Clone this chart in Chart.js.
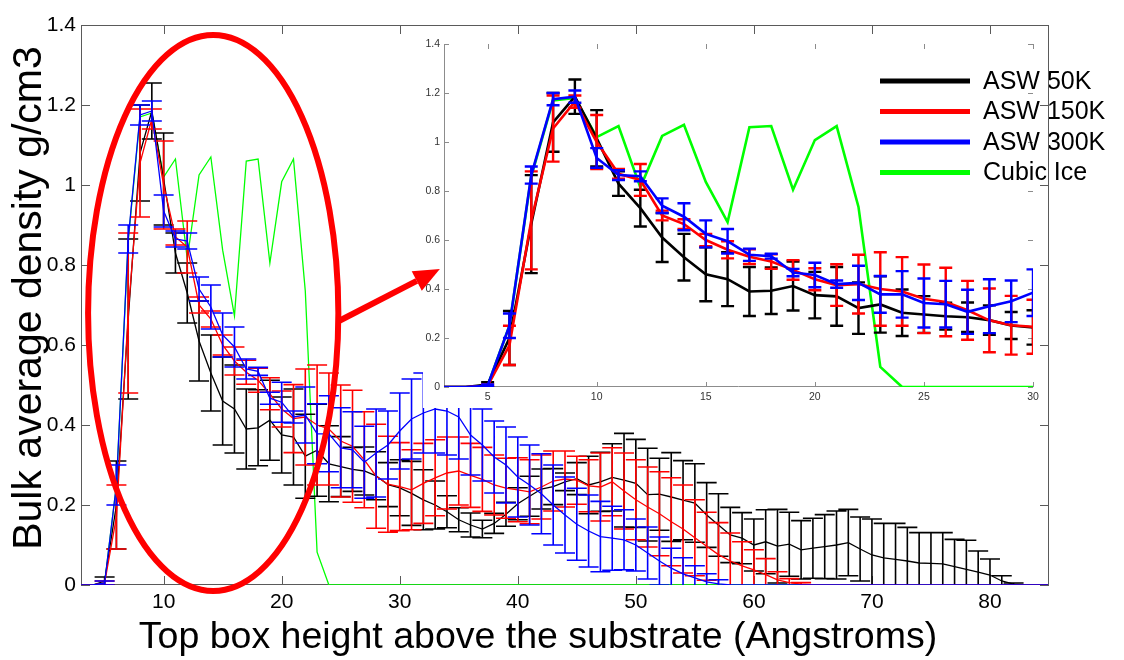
<!DOCTYPE html>
<html>
<head>
<meta charset="utf-8">
<script src="https://cdn.jsdelivr.net/npm/chart.js@4.4.1/dist/chart.umd.min.js"></script>
<style>
  html, body { margin: 0; padding: 0; background: #fff; }
  #wrap { position: relative; width: 1124px; height: 660px; }
  #wrap canvas { position: absolute; left: 0; top: 0; }
</style>
</head>
<body>
<div id="wrap">
  <canvas id="mainChart" width="1124" height="660"></canvas>
  <canvas id="insetChart" width="1124" height="660"></canvas>
</div>
<script>
// Top box height above the substrate (Angstroms)
const heights = [
  3, 4, 5, 6, 7, 8, 9, 10, 11, 12,
  13, 14, 15, 16, 17, 18, 19, 20, 21, 22,
  23, 24, 25, 26, 27, 28, 29, 30, 31, 32,
  33, 34, 35, 36, 37, 38, 39, 40, 41, 42,
  43, 44, 45, 46, 47, 48, 49, 50, 51, 52,
  53, 54, 55, 56, 57, 58, 59, 60, 61, 62,
  63, 64, 65, 66, 67, 68, 69, 70, 71, 72,
  73, 74, 75, 76, 77, 78, 79, 80, 81, 82,
  83, 84, 85
];

// Bulk average density (g/cm3) and its spread, per deposition temperature
const asw50 = [
  0, 0, 0.01, 0.2, 0.665, 1.08, 1.185, 1.015, 0.83, 0.73,
  0.61, 0.53, 0.46, 0.44, 0.39, 0.393, 0.412, 0.375, 0.37, 0.322,
  0.337, 0.303, 0.296, 0.289, 0.285, 0.273, 0.251, 0.243, 0.229, 0.213,
  0.2, 0.183, 0.163, 0.15, 0.14, 0.154, 0.177, 0.203, 0.222, 0.24,
  0.246, 0.258, 0.266, 0.25, 0.258, 0.269, 0.262, 0.254, 0.226, 0.227,
  0.22, 0.212, 0.205, 0.175, 0.15, 0.125, 0.117, 0.1, 0.108, 0.097,
  0.102, 0.088, 0.092, 0.096, 0.1, 0.106, 0.09, 0.075, 0.068, 0.064,
  0.06, 0.055, 0.054, 0.053, 0.046, 0.039, 0.032, 0.025, 0.01, 0.002,
  0, 0, 0
];
const asw50Err = [
  0, 0, 0.01, 0.11, 0.2, 0.12, 0.07, 0.115, 0.05, 0.075,
  0.1, 0.095, 0.11, 0.11, 0.1, 0.095, 0.1, 0.095, 0.12, 0.105,
  0.115, 0.095, 0.075, 0.055, 0.06, 0.06, 0.055, 0.07, 0.08, 0.075,
  0.06, 0.04, 0.03, 0.03, 0.022, 0.025, 0.03, 0.04, 0.05, 0.05,
  0.045, 0.022, 0.04, 0.072, 0.074, 0.084, 0.117, 0.11, 0.116, 0.09,
  0.111, 0.099, 0.098, 0.081, 0.078, 0.069, 0.064, 0.065, 0.08, 0.092,
  0.08, 0.073, 0.075, 0.08, 0.085, 0.083, 0.08, 0.09, 0.086, 0.09,
  0.084, 0.076, 0.077, 0.078, 0.068, 0.073, 0.053, 0.04, 0.013, 0.003,
  0, 0, 0
];
const asw150 = [
  0, 0, 0.005, 0.17, 0.68, 1.055, 1.165, 1.0, 0.87, 0.845,
  0.7, 0.665, 0.6, 0.56, 0.532, 0.512, 0.478, 0.44, 0.416, 0.42,
  0.4, 0.39, 0.36, 0.347, 0.313, 0.272, 0.252, 0.246, 0.238, 0.254,
  0.268, 0.28, 0.285, 0.274, 0.264, 0.25, 0.242, 0.238, 0.233, 0.245,
  0.26, 0.265, 0.262, 0.248, 0.245, 0.258, 0.235, 0.213, 0.195, 0.178,
  0.158, 0.14, 0.118, 0.097, 0.076, 0.06, 0.048, 0.038, 0.026, 0.013,
  0.006, 0.002, 0, 0, 0, 0, 0, 0, 0, 0,
  0, 0, 0, 0, 0, 0, 0, 0, 0, 0,
  0, 0, 0
];
const asw150Err = [
  0, 0, 0.005, 0.08, 0.2, 0.135, 0.025, 0.11, 0.02, 0.065,
  0.02, 0.02, 0.025, 0.035, 0.03, 0.03, 0.04, 0.045, 0.085, 0.12,
  0.15, 0.14, 0.14, 0.14, 0.12, 0.13, 0.12, 0.11, 0.1, 0.1,
  0.095, 0.09, 0.085, 0.08, 0.08, 0.075, 0.075, 0.08, 0.08, 0.08,
  0.075, 0.07, 0.06, 0.065, 0.085, 0.085, 0.095, 0.1, 0.1, 0.105,
  0.11, 0.11, 0.095, 0.085, 0.08, 0.07, 0.06, 0.05, 0.04, 0.02,
  0.01, 0.004, 0, 0, 0, 0, 0, 0, 0, 0,
  0, 0, 0, 0, 0, 0, 0, 0, 0, 0,
  0, 0, 0
];
const asw300 = [
  0, 0, 0.005, 0.25, 0.865, 1.175, 1.185, 0.935, 0.865, 0.86,
  0.74, 0.695, 0.625, 0.595, 0.54, 0.534, 0.467, 0.457, 0.42, 0.425,
  0.378, 0.378, 0.343, 0.338, 0.307, 0.33, 0.35, 0.385, 0.415, 0.43,
  0.44, 0.435, 0.42, 0.375, 0.35, 0.32, 0.3, 0.27, 0.25, 0.228,
  0.2, 0.175, 0.152, 0.135, 0.121, 0.117, 0.113, 0.1, 0.08, 0.06,
  0.042, 0.028, 0.018, 0.008, 0.003, 0, 0, 0, 0, 0,
  0, 0, 0, 0, 0, 0, 0, 0, 0, 0,
  0, 0, 0, 0, 0, 0, 0, 0, 0, 0,
  0, 0, 0
];
const asw300Err = [
  0, 0, 0.005, 0.05, 0.035, 0.025, 0.025, 0.04, 0.02, 0.02,
  0.03, 0.055, 0.055, 0.05, 0.025, 0.01, 0.015, 0.05, 0.015, 0.07,
  0.075, 0.095, 0.1, 0.095, 0.09, 0.11, 0.085, 0.095, 0.1, 0.1,
  0.11, 0.11, 0.105, 0.1, 0.09, 0.09, 0.095, 0.1, 0.1, 0.1,
  0.1, 0.095, 0.09, 0.09, 0.088, 0.08, 0.075, 0.065, 0.065, 0.06,
  0.05, 0.04, 0.03, 0.02, 0.01, 0, 0, 0, 0, 0,
  0, 0, 0, 0, 0, 0, 0, 0, 0, 0,
  0, 0, 0, 0, 0, 0, 0, 0, 0, 0,
  0, 0, 0
];
const cubicIce = [
  0, 0, 0.005, 0.25, 0.86, 1.17, 1.18, 1.02, 1.065, 0.815,
  1.025, 1.07, 0.837, 0.673, 1.06, 1.065, 0.805, 1.008, 1.065, 0.735,
  0.082, 0, 0, 0, 0, 0, 0, 0, 0, 0,
  0, 0, 0, 0, 0, 0, 0, 0, 0, 0,
  0, 0, 0, 0, 0, 0, 0, 0, 0, 0,
  0, 0, 0, 0, 0, 0, 0, 0, 0, 0,
  0, 0, 0, 0, 0, 0, 0, 0, 0, 0,
  0, 0, 0, 0, 0, 0, 0, 0, 0, 0,
  0, 0, 0
];

const seriesLabels = ['ASW 50K', 'ASW 150K', 'ASW 300K', 'Cubic Ice'];

// Tick values and their labels
const mainXTicks = [10, 20, 30, 40, 50, 60, 70, 80];
const mainYTicks = [0, 0.2, 0.4, 0.6, 0.8, 1, 1.2, 1.4];
const mainYTickLabels = ['0', '0.2', '0.4', '0.6', '0.8', '1', '1.2', '1.4'];
const insetXTicks = [5, 10, 15, 20, 25, 30];
const insetYTicks = [0, 0.2, 0.4, 0.6, 0.8, 1, 1.2, 1.4];
const insetYTickLabels = ['0', '0.2', '0.4', '0.6', '0.8', '1', '1.2', '1.4'];

const axisTitleX = 'Top box height above the substrate (Angstroms)';
const axisTitleY = 'Bulk average density g/cm3';

const FONT = '"Liberation Sans", Arial, Helvetica, sans-serif';
const COLORS = ['#000000', '#ff0000', '#0000ff', '#00ff00'];

function points(values) {
  return heights.map((h, i) => ({ x: h, y: values[i] }));
}

function buildDatasets(lineWidth) {
  const defs = [
    { values: asw50, err: asw50Err, order: 2 },
    { values: asw150, err: asw150Err, order: 1 },
    { values: asw300, err: asw300Err, order: 0 },
    { values: cubicIce, err: null, order: 3 }
  ];
  return defs.map((d, i) => ({
    label: seriesLabels[i],
    data: points(d.values),
    err: d.err,
    borderColor: COLORS[i],
    backgroundColor: COLORS[i],
    borderWidth: lineWidth,
    pointRadius: 0,
    pointHoverRadius: 0,
    tension: 0,
    fill: false,
    order: d.order
  }));
}

// Vertical error bars with horizontal caps, drawn just under each series line
const errorBars = {
  id: 'errorBars',
  beforeDatasetDraw(chart, args, opts) {
    const ds = chart.data.datasets[args.index];
    if (!ds.err) return;
    const { ctx, chartArea: a } = chart;
    const xs = chart.scales.x, ys = chart.scales.y;
    ctx.save();
    ctx.beginPath();
    ctx.rect(a.left, a.top, a.right - a.left, a.bottom - a.top);
    ctx.clip();
    ctx.strokeStyle = ds.borderColor;
    ctx.lineWidth = opts.width;
    ctx.beginPath();
    ds.data.forEach((p, i) => {
      const e = ds.err[i];
      if (!e) return;
      const px = xs.getPixelForValue(p.x);
      const top = ys.getPixelForValue(p.y + e);
      const bot = ys.getPixelForValue(p.y - e);
      ctx.moveTo(px, top); ctx.lineTo(px, bot);
      ctx.moveTo(px - opts.cap, top); ctx.lineTo(px + opts.cap, top);
      ctx.moveTo(px - opts.cap, bot); ctx.lineTo(px + opts.cap, bot);
    });
    ctx.stroke();
    ctx.restore();
  }
};

// Inward tick marks on chosen sides, and optional frame lines
function drawFrame(chart, f) {
  const { ctx, chartArea: a } = chart;
  const xs = chart.scales.x, ys = chart.scales.y;
  ctx.save();
  ctx.strokeStyle = f.color;
  ctx.lineWidth = 1;
  ctx.beginPath();
  if (f.lines.includes('left')) { ctx.moveTo(a.left + 0.5, a.top); ctx.lineTo(a.left + 0.5, a.bottom); }
  if (f.lines.includes('bottom')) { ctx.moveTo(a.left, a.bottom - 0.5); ctx.lineTo(a.right, a.bottom - 0.5); }
  if (f.lines.includes('top')) { ctx.moveTo(a.left, a.top + 0.5); ctx.lineTo(a.right, a.top + 0.5); }
  if (f.lines.includes('right')) { ctx.moveTo(a.right - 0.5, a.top); ctx.lineTo(a.right - 0.5, a.bottom); }
  xs.ticks.forEach(t => {
    const px = Math.round(xs.getPixelForValue(t.value)) + 0.5;
    if (f.ticks.includes('bottom')) { ctx.moveTo(px, a.bottom); ctx.lineTo(px, a.bottom - f.len); }
    if (f.ticks.includes('top')) { ctx.moveTo(px, a.top); ctx.lineTo(px, a.top + f.len); }
  });
  ys.ticks.forEach(t => {
    const py = Math.round(ys.getPixelForValue(t.value)) + 0.5;
    if (f.ticks.includes('left')) { ctx.moveTo(a.left, py); ctx.lineTo(a.left + f.len, py); }
    if (f.ticks.includes('right')) { ctx.moveTo(a.right, py); ctx.lineTo(a.right - f.len, py); }
  });
  ctx.stroke();
  ctx.restore();
}

function fixedTicks(values) {
  return scale => { scale.ticks = values.map(v => ({ value: v })); };
}

const mainFrame = { color: '#5a5a5a', len: 9, lines: ['left', 'bottom', 'top', 'right'], ticks: ['left', 'bottom', 'top', 'right'] };

const mainDecor = {
  id: 'mainDecor',
  beforeDatasetsDraw(chart) {
    drawFrame(chart, mainFrame);
  },
  afterDraw(chart) {
    const ctx = chart.ctx;
    ctx.save();
    ctx.fillStyle = '#000';
    ctx.textBaseline = 'middle';
    ctx.textAlign = 'center';
    ctx.font = '37.5px ' + FONT;
    ctx.fillText(axisTitleX, 538, 638);
    ctx.translate(30, 298);
    ctx.rotate(-Math.PI / 2);
    ctx.font = '41px ' + FONT;
    ctx.fillText(axisTitleY, 0, 0);
    ctx.restore();
  }
};

const mainChart = new Chart(document.getElementById('mainChart'), {
  type: 'line',
  data: { datasets: buildDatasets(1.3) },
  plugins: [errorBars, mainDecor],
  options: {
    responsive: false,
    animation: false,
    devicePixelRatio: 1,
    layout: { padding: { left: 0, top: 25, right: 75, bottom: 0 } },
    plugins: {
      legend: { display: false },
      tooltip: { enabled: false },
      errorBars: { width: 1.6, cap: 10 }
    },
    scales: {
      x: {
        type: 'linear', min: 3, max: 85,
        afterBuildTicks: fixedTicks(mainXTicks),
        afterFit: s => { s.height = 75; },
        grid: { display: false, drawTicks: false },
        border: { display: false },
        ticks: { color: '#000', font: { family: FONT, size: 21 }, padding: 5, maxRotation: 0,
                 callback: v => String(v) }
      },
      y: {
        type: 'linear', min: 0, max: 1.4,
        afterBuildTicks: fixedTicks(mainYTicks),
        afterFit: s => { s.width = 81; },
        grid: { display: false, drawTicks: false },
        border: { display: false },
        ticks: { color: '#000', font: { family: FONT, size: 21 }, padding: 5,
                 callback: v => mainYTickLabels[mainYTicks.indexOf(v)] }
      }
    }
  }
});

// Outline around the peak region of the main plot, and the pointer toward the magnified view
const focusOutline = { cx: 14.2, cy: 0.68, rx: 10.6, ry: 0.695 };
const focusArrow = { from: [24.85, 0.66], to: [33.4, 0.79] };

const insetFrame = { color: '#8c8c8c', len: 5, lines: ['left', 'bottom'], ticks: ['left', 'bottom', 'top', 'right'] };

const insetDecor = {
  id: 'insetDecor',
  beforeDraw(chart) {
    const ctx = chart.ctx;
    ctx.save();
    ctx.fillStyle = '#ffffff';
    ctx.fillRect(423, 35, 1124 - 423, 408 - 35);
    ctx.restore();
  },
  beforeDatasetsDraw(chart) {
    drawFrame(chart, insetFrame);
  },
  afterDraw(chart) {
    const ctx = chart.ctx;
    // legend
    ctx.save();
    ctx.font = '25px ' + FONT;
    ctx.textBaseline = 'middle';
    ctx.textAlign = 'left';
    seriesLabels.forEach((lab, i) => {
      const y = 81 + i * 30.5;
      ctx.strokeStyle = COLORS[i];
      ctx.lineWidth = 5;
      ctx.beginPath();
      ctx.moveTo(880, y); ctx.lineTo(970, y);
      ctx.stroke();
      ctx.fillStyle = '#000';
      ctx.fillText(lab, 983, y + 1);
    });
    ctx.restore();

    // main plot right edge and its ticks stay visible over the magnified view
    const mx = mainChart.scales.x, my = mainChart.scales.y, ma = mainChart.chartArea;
    ctx.save();
    ctx.strokeStyle = mainFrame.color;
    ctx.lineWidth = 1;
    ctx.beginPath();
    ctx.moveTo(ma.right - 0.5, ma.top); ctx.lineTo(ma.right - 0.5, ma.bottom);
    my.ticks.forEach(t => {
      const py = Math.round(my.getPixelForValue(t.value)) + 0.5;
      ctx.moveTo(ma.right, py); ctx.lineTo(ma.right - mainFrame.len, py);
    });
    ctx.stroke();

    // red outline and arrow
    const cx = mx.getPixelForValue(focusOutline.cx);
    const cy = my.getPixelForValue(focusOutline.cy);
    const rx = mx.getPixelForValue(focusOutline.cx + focusOutline.rx) - cx;
    const ry = cy - my.getPixelForValue(focusOutline.cy + focusOutline.ry);
    ctx.strokeStyle = '#ff0000';
    ctx.fillStyle = '#ff0000';
    ctx.lineWidth = 6;
    ctx.beginPath();
    ctx.ellipse(cx, cy, rx, ry, 0, 0, Math.PI * 2);
    ctx.stroke();

    const x0 = mx.getPixelForValue(focusArrow.from[0]), y0 = my.getPixelForValue(focusArrow.from[1]);
    const x1 = mx.getPixelForValue(focusArrow.to[0]), y1 = my.getPixelForValue(focusArrow.to[1]);
    const ang = Math.atan2(y1 - y0, x1 - x0);
    const headLen = 26, headHalf = 11;
    const bx = x1 - headLen * Math.cos(ang), by = y1 - headLen * Math.sin(ang);
    ctx.beginPath();
    ctx.moveTo(x0, y0); ctx.lineTo(bx, by);
    ctx.stroke();
    ctx.beginPath();
    ctx.moveTo(x1, y1);
    ctx.lineTo(bx + headHalf * Math.sin(ang), by - headHalf * Math.cos(ang));
    ctx.lineTo(bx - headHalf * Math.sin(ang), by + headHalf * Math.cos(ang));
    ctx.closePath();
    ctx.fill();
    ctx.restore();
  }
};

const insetChart = new Chart(document.getElementById('insetChart'), {
  type: 'line',
  data: { datasets: buildDatasets(2.6) },
  plugins: [errorBars, insetDecor],
  options: {
    responsive: false,
    animation: false,
    devicePixelRatio: 1,
    layout: { padding: { left: 414, top: 44, right: 91, bottom: 253 } },
    plugins: {
      legend: { display: false },
      tooltip: { enabled: false },
      errorBars: { width: 2.4, cap: 6.5 }
    },
    scales: {
      x: {
        type: 'linear', min: 3, max: 30,
        afterBuildTicks: fixedTicks(insetXTicks),
        afterFit: s => { s.height = 20; },
        grid: { display: false, drawTicks: false },
        border: { display: false },
        ticks: { color: '#333', font: { family: FONT, size: 10.5 }, padding: 4, maxRotation: 0,
                 callback: v => String(v) }
      },
      y: {
        type: 'linear', min: 0, max: 1.4,
        afterBuildTicks: fixedTicks(insetYTicks),
        afterFit: s => { s.width = 30; },
        grid: { display: false, drawTicks: false },
        border: { display: false },
        ticks: { color: '#333', font: { family: FONT, size: 10.5 }, padding: 4,
                 callback: v => insetYTickLabels[insetYTicks.indexOf(v)] }
      }
    }
  }
});
</script>
</body>
</html>
